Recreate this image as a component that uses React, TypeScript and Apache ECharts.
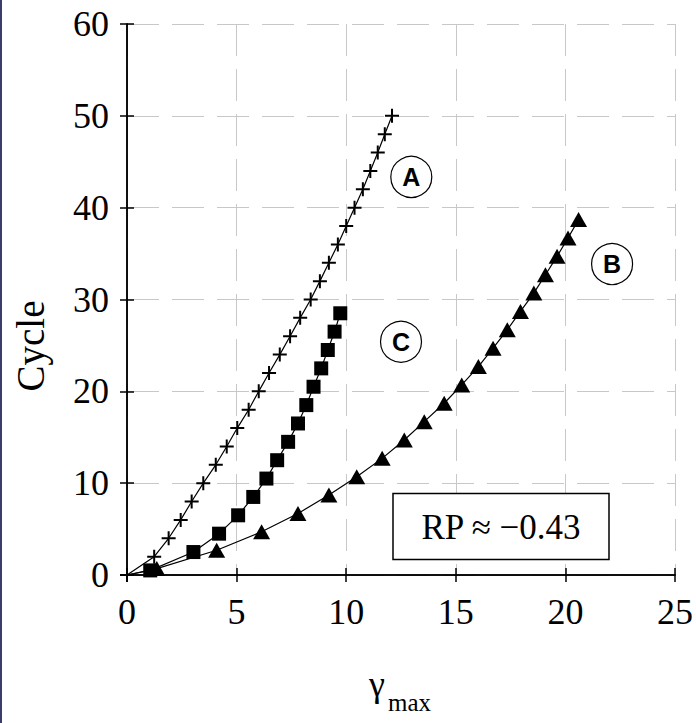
import React, { useEffect, useRef } from "react";
import * as echarts from "echarts";

// Curve A (plus markers): cycle count vs. maximum shear strain
const cyclesA = [0, 2, 4, 6, 8, 10, 12, 14, 16, 18, 20, 22, 24, 26, 28, 30, 32, 34, 36, 38, 40, 42, 44, 46, 48, 50];
const gammaA = [0, 1.24, 1.9, 2.45, 2.95, 3.48, 4.05, 4.55, 5.03, 5.55, 6.01, 6.48, 6.97, 7.44, 7.9, 8.38, 8.8, 9.21, 9.62, 10.0, 10.38, 10.76, 11.1, 11.44, 11.76, 12.09];

// Curve B (triangles)
const cyclesB = [0.7, 2.7, 4.7, 6.7, 8.7, 10.7, 12.7, 14.7, 16.7, 18.7, 20.7, 22.7, 24.7, 26.7, 28.7, 30.7, 32.7, 34.7, 36.7, 38.7];
const gammaB = [1.36, 4.09, 6.14, 7.8, 9.21, 10.48, 11.64, 12.65, 13.56, 14.47, 15.27, 16.03, 16.7, 17.35, 17.95, 18.56, 19.09, 19.62, 20.12, 20.6];

// Curve C (squares)
const cyclesC = [0.5, 2.5, 4.5, 6.5, 8.5, 10.5, 12.5, 14.5, 16.5, 18.5, 20.5, 22.5, 24.5, 26.5, 28.5];
const gammaC = [1.06, 3.03, 4.2, 5.07, 5.76, 6.36, 6.85, 7.35, 7.8, 8.18, 8.51, 8.86, 9.16, 9.47, 9.73];

const xRange = { min: 0, max: 25, interval: 5 };
const yRange = { min: 0, max: 60, interval: 10 };

const curveLabels = ["A", "B", "C"];
const rpText = "RP \u2248 \u22120.43";

const SERIF = "'Liberation Serif', 'Times New Roman', serif";
const SANS = "'Liberation Sans', Arial, sans-serif";

const PLUS = "path://M-1,-7 L1,-7 L1,-1 L7,-1 L7,1 L1,1 L1,7 L-1,7 L-1,1 L-7,1 L-7,-1 L-1,-1 Z";

function pairs(xs: number[], ys: number[], fromOrigin: boolean) {
  const pts: any[] = xs.map((x, i) => [x, ys[i]]);
  if (fromOrigin) pts.unshift({ value: [0, 0], symbol: "none" });
  return pts;
}

export default function App() {
  const ref = useRef<HTMLDivElement>(null);

  useEffect(() => {
    if (!ref.current) return;
    const chart = echarts.init(ref.current, null, { renderer: "svg" });

    const grid = { left: 127, right: 19, top: 24, bottom: 148 };
    const axisLine = { show: true, lineStyle: { color: "#000", width: 1.5 } };
    const axisTick = { show: true, inside: true, length: 7, lineStyle: { color: "#000", width: 1.5 } };
    const splitLine = { show: true, lineStyle: { color: "#c8c8c8", width: 1, type: [32, 13] as any } };
    const tickFont = { fontFamily: SERIF, fontSize: 36, color: "#000" };

    const lineSeries = (name: string, data: any[], symbol: string, size: any) => ({
      name,
      type: "line",
      data,
      symbol,
      symbolSize: size,
      showSymbol: true,
      lineStyle: { color: "#000", width: 1.2 },
      itemStyle: { color: "#000" },
      emphasis: { disabled: true },
      z: 3,
    });

    // circled curve identifiers, placed in data coordinates
    const tagPositions = [
      [12.97, 43.35],
      [22.13, 33.86],
      [12.5, 25.4],
    ];

    chart.setOption({
      animation: false,
      backgroundColor: "#fff",
      grid,
      xAxis: [
        {
          type: "value",
          ...xRange,
          axisLine,
          axisTick,
          splitLine,
          axisLabel: { ...tickFont, margin: 19 },
        },
        {
          type: "value",
          position: "top",
          ...xRange,
          axisLine,
          axisTick,
          splitLine: { show: false },
          axisLabel: { show: false },
        },
      ],
      yAxis: [
        {
          type: "value",
          ...yRange,
          axisLine,
          axisTick,
          splitLine,
          axisLabel: { ...tickFont, margin: 18 },
        },
        {
          type: "value",
          position: "right",
          ...yRange,
          axisLine,
          axisTick,
          splitLine: { show: false },
          axisLabel: { show: false },
        },
      ],
      series: [
        lineSeries("A", pairs(gammaA, cyclesA, false), PLUS, 14),
        lineSeries("C", pairs(gammaC, cyclesC, true), "rect", 14),
        lineSeries("B", pairs(gammaB, cyclesB, true), "triangle", [17, 15]),
        {
          type: "scatter",
          data: tagPositions.map((p, i) => ({ value: p, name: curveLabels[i] })),
          symbol: "circle",
          symbolSize: 41,
          itemStyle: { color: "#fff", borderColor: "#000", borderWidth: 1.2, opacity: 1 },
          label: {
            show: true,
            position: "inside",
            formatter: (p: any) => p.name,
            fontFamily: SANS,
            fontWeight: "bold",
            fontSize: 25,
            color: "#000",
            opacity: 1,
          },
          emphasis: { disabled: true },
          z: 4,
        },
      ],
      graphic: [
        { type: "rect", left: 0, top: 0, shape: { width: 2, height: 723 }, style: { fill: "#3b3e6c" } },
        {
          type: "rect",
          shape: { x: 393, y: 493.5, width: 216, height: 66 },
          style: { fill: "#fff", stroke: "#000", lineWidth: 1.5 },
          z: 10,
        },
        {
          type: "text",
          x: 501,
          y: 527,
          style: { text: rpText, fontFamily: SERIF, fontSize: 35, fill: "#000", align: "center", verticalAlign: "middle" },
          z: 11,
        },
        {
          type: "text",
          x: 30,
          y: 346,
          rotation: Math.PI / 2,
          style: { text: "Cycle", fontFamily: SERIF, fontSize: 39, fill: "#000", align: "center", verticalAlign: "middle" },
        },
        {
          type: "text",
          x: 377,
          y: 684,
          style: { text: "\u03b3", fontFamily: SERIF, fontSize: 36, fill: "#000", align: "center", verticalAlign: "middle" },
        },
        {
          type: "text",
          x: 388,
          y: 702,
          style: { text: "max", fontFamily: SERIF, fontSize: 25, fill: "#000", align: "left", verticalAlign: "middle" },
        },
      ],
    });

    return () => chart.dispose();
  }, []);

  return <div ref={ref} style={{ position: "fixed", left: 0, top: 0, width: 696, height: 723 }} />;
}
